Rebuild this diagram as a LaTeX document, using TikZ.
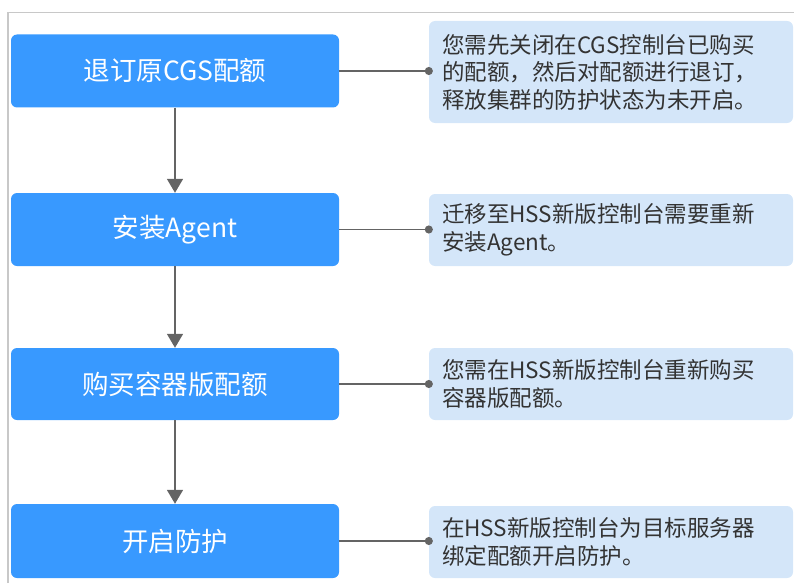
\documentclass[tikz,border=0pt]{standalone}
\usepackage{fontspec}
\newfontfamily\cjk{Noto Sans CJK SC}
\usetikzlibrary{arrows.meta}
\definecolor{stepblue}{RGB}{56,153,255}
\definecolor{notebg}{RGB}{212,230,249}
\definecolor{linegray}{RGB}{100,100,100}
\definecolor{framegray}{RGB}{200,200,200}
\definecolor{textgray}{RGB}{51,51,51}
\begin{document}
\begin{tikzpicture}[x=1pt,y=-1pt]

  % Page = 794 x 583 px, one unit = one pixel, y grows downwards
  \useasboundingbox (0,0) rectangle (794,583);

  \tikzset{
    stepbox/.style={fill=stepblue, rounded corners=6pt, minimum width=328pt,
      text=white, font=\cjk\fontsize{26.5}{30}\selectfont},
    notebox/.style={fill=notebg, rounded corners=6pt, minimum width=364pt,
      text width=338pt, inner xsep=13pt, align=left, text=textgray,
      font=\cjk\fontsize{22.5}{27.5}\selectfont},
    flow/.style={draw=linegray, line width=1.6pt,
      -{Triangle[width=16pt,length=14pt]}},
    link/.style={draw=linegray, line width=1.6pt,
      -{Circle[length=8pt]}, shorten >=-4pt}
  }

  % Frame, only its top and left edges show
  \draw[framegray, line width=1.2pt] (8,583) -- (8,12.5) -- (794,12.5);

  % Steps on the left
  \node[stepbox, minimum height=73pt] (s1) at (175,71)    {退订原CGS配额};
  \node[stepbox, minimum height=73pt] (s2) at (175,229.5) {安装Agent};
  \node[stepbox, minimum height=72pt] (s3) at (175,384)   {购买容器版配额};
  \node[stepbox, minimum height=74pt] (s4) at (175,541)   {开启防护};

  % Notes on the right
  \node[notebox, minimum height=102pt] (n1) at (611,72)
    {您需先关闭在CGS控制台已购买\\的配额，然后对配额进行退订，\\释放集群的防护状态为未开启。};
  \node[notebox, minimum height=72pt] (n2) at (611,230)
    {迁移至HSS新版控制台需要重新\\安装Agent。};
  \node[notebox, minimum height=72pt] (n3) at (611,384)
    {您需在HSS新版控制台重新购买\\容器版配额。};
  \node[notebox, minimum height=72pt] (n4) at (611,542)
    {在HSS新版控制台为目标服务器\\绑定配额开启防护。};

  % Flow between the steps
  \foreach \a/\b in {s1/s2,s2/s3,s3/s4}
    \draw[flow] (\a) -- (\b);

  % Each step linked to its note
  \foreach \i in {1,...,4}
    \draw[link] (s\i.east) -- (s\i.east -| n\i.west);

\end{tikzpicture}
\end{document}
